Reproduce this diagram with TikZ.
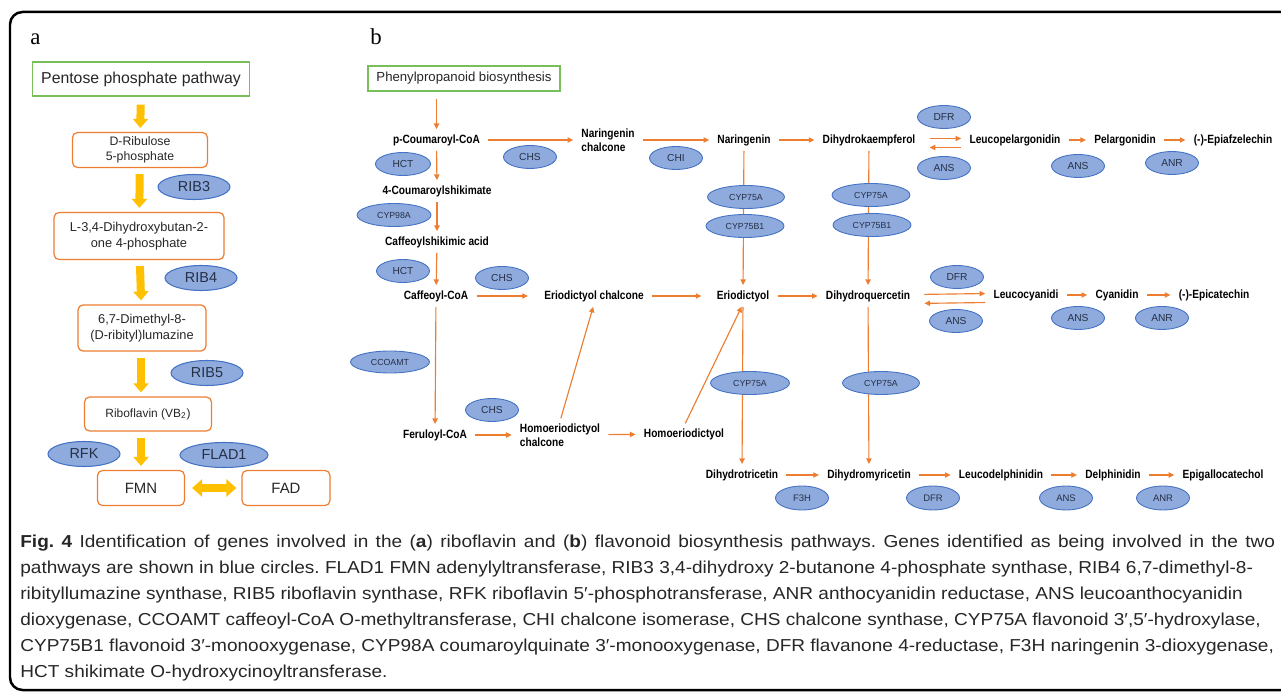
\documentclass[tikz,border=0pt]{standalone}
\usepackage{fontspec}
\setmainfont{Liberation Sans}
\newfontfamily\panelfont{Liberation Serif}
\newfontfamily\cmpdfont[FakeStretch=0.85]{Liberation Sans}
\newfontfamily\capfont[FakeStretch=1.1]{Liberation Sans}
\usepackage{xcolor}
\usetikzlibrary{shapes.geometric,arrows.meta}

\definecolor{pgreen}{RGB}{120,190,90}
\definecolor{porange}{RGB}{237,125,49}
\definecolor{pyellow}{RGB}{255,192,0}
\definecolor{efill}{RGB}{143,170,220}
\definecolor{eline}{RGB}{68,114,196}
\definecolor{etext}{RGB}{38,48,70}

\tikzstyle{source} = [rectangle, draw=pgreen, line width=0.8pt, inner sep=0, align=center, text=black!85]
\tikzstyle{metab} = [rectangle, rounded corners=0.1cm, draw=porange, line width=0.7pt, inner sep=0, align=center, text=black!85, font=\fontsize{7.3}{8.8}\selectfont]
\tikzstyle{gene} = [ellipse, draw=eline, fill=efill, line width=0.6pt, inner sep=0, text=etext, minimum width=1.44cm, minimum height=0.5cm, font=\fontsize{8.2}{9}\selectfont]
\tikzstyle{enzyme} = [ellipse, draw=eline, fill=efill, line width=0.5pt, inner sep=0, text=etext, minimum width=1.06cm, minimum height=0.46cm, font=\fontsize{5.8}{6.5}\selectfont]
\tikzstyle{cyp} = [enzyme, minimum width=1.56cm, font=\fontsize{5}{6}\selectfont]
\tikzstyle{compound} = [inner xsep=0.1cm, inner ysep=0.04cm, align=left, font=\cmpdfont\bfseries\fontsize{6.8}{8}\selectfont]
\tikzstyle{bigarrow} = [draw=pyellow, line width=0.16cm, -{Triangle[width=0.3cm,length=0.18cm]}, shorten <=0.12cm, shorten >=0.08cm]
\tikzstyle{arrow} = [draw=porange, line width=0.65pt, -{Triangle[width=3pt,length=3.2pt]}, shorten <=0.06cm, shorten >=0.06cm]

\begin{document}
\begin{tikzpicture}[x=0.02cm, y=-0.02cm]
\useasboundingbox (0,0) rectangle (1281,695);
\draw[line width=0.05cm, rounded corners=0.25cm] (1290,12) -- (10,12) -- (10,690) -- (1290,690);

\node[anchor=base west, inner sep=0, font=\panelfont\fontsize{13}{15}\selectfont] (labela) at (30,45) {a};
\node[anchor=base west, inner sep=0, font=\panelfont\fontsize{13}{15}\selectfont] (labelb) at (370,45) {b};

% (a) riboflavin
\node(ppp) [source, minimum width=4.34cm, minimum height=0.68cm, font=\fontsize{9}{10}\selectfont] at (141,79) {Pentose phosphate pathway};
\node(ru5p) [metab, minimum width=2.7cm, minimum height=0.7cm, font=\fontsize{7}{8.8}\selectfont] at (140,150) {D-Ribulose\\5-phosphate};
\node(dhbp) [metab, minimum width=3.4cm, minimum height=0.94cm] at (139,236) {L-3,4-Dihydroxybutan-2-\\one 4-phosphate};
\node(dmrl) [metab, minimum width=2.56cm, minimum height=0.92cm] at (142,328) {6,7-Dimethyl-8-\\(D-ribityl)lumazine};
\node(ribo) [metab, minimum width=2.54cm, minimum height=0.68cm, font=\fontsize{6.8}{8}\selectfont] at (148,414) {Riboflavin (VB\textsubscript{2})};
\node(fmn) [metab, minimum width=1.74cm, minimum height=0.7cm, font=\fontsize{8.5}{10}\selectfont] at (141,488) {FMN};
\node(fad) [metab, minimum width=1.76cm, minimum height=0.7cm, font=\fontsize{8.5}{10}\selectfont] at (286,488) {FAD};

\draw [bigarrow, shorten <=0.16cm] (ppp) -- (ru5p);
\draw [bigarrow] (ru5p) -- (dhbp);
\draw [bigarrow] (dhbp) -- (dmrl);
\draw [bigarrow] (dmrl.south -| fmn) -- (ribo.north -| fmn);
\draw [bigarrow] (ribo.south -| fmn) -- (fmn);
\draw [draw=pyellow, line width=0.16cm, {Triangle[width=0.34cm,length=0.2cm]}-{Triangle[width=0.34cm,length=0.2cm]}, shorten <=0.14cm, shorten >=0.1cm] (fmn) -- (fad);

\node(rib3) [gene] at (194,187) {RIB3};
\node(rib4) [gene] at (201,278) {RIB4};
\node(rib5) [gene] at (207,373) {RIB5};
\node(rfk) [gene] at (84,454) {RFK};
\node(flad1) [gene, minimum width=1.76cm] at (224,455) {FLAD1};

% (b) flavonoid
\node(phen) [source, minimum width=3.84cm, minimum height=0.5cm, font=\fontsize{7.5}{9}\selectfont] at (464,78.5) {Phenylpropanoid biosynthesis};
\node(pcoum) [compound] at (436.5,140) {p-Coumaroyl-CoA};
\node(narchal) [compound] at (608,140) {Naringenin\\chalcone};
\node(nar) [compound] at (744,140) {Naringenin};
\node(dhk) [compound] at (869,140) {Dihydrokaempferol};
\node(lpel) [compound] at (1015,140) {Leucopelargonidin};
\node(pel) [compound] at (1125,140) {Pelargonidin};
\node(epiaf) [compound] at (1233,140) {(-)-Epiafzelechin};
\node(cshik) [compound] at (437,191) {4-Coumaroylshikimate};
\node(cafshik) [compound] at (437,242) {Caffeoylshikimic acid};
\node(cafcoa) [compound] at (436,296) {Caffeoyl-CoA};
\node(erichal) [compound] at (594,296) {Eriodictyol chalcone};
\node(erio) [compound] at (743,296) {Eriodictyol};
\node(dhq) [compound] at (868,296) {Dihydroquercetin};
\node(lcya) [compound] at (1026,295) {Leucocyanidi};
\node(cya) [compound] at (1117,295) {Cyanidin};
\node(epicat) [compound] at (1214,295) {(-)-Epicatechin};
\node(fercoa) [compound] at (435,435) {Feruloyl-CoA};
\node(homchal) [compound] at (560,435) {Homoeriodictyol\\chalcone};
\node(homerio) [compound] at (684,434) {Homoeriodictyol};
\node(dht) [compound] at (742,475) {Dihydrotricetin};
\node(dhm) [compound] at (869,475) {Dihydromyricetin};
\node(ldel) [compound] at (1001,475) {Leucodelphinidin};
\node(del) [compound] at (1113,475) {Delphinidin};
\node(egc) [compound] at (1223,475) {Epigallocatechol};

\draw [arrow, shorten <=0.14cm] (phen.south -| pcoum) -- (pcoum);
\draw [arrow] (pcoum) -- (narchal);
\draw [arrow] (narchal) -- (nar);
\draw [arrow] (nar) -- (dhk);
\draw [arrow, shorten <=0.18cm] ([yshift=0.03cm]dhk.east) -- ([yshift=0.03cm]lpel.west);
\draw [arrow, shorten <=0.06cm, shorten >=0.18cm] ([yshift=-0.15cm]lpel.west) -- ([yshift=-0.15cm]dhk.east);
\draw [arrow] (lpel) -- (pel);
\draw [arrow] (pel) -- (epiaf);
\draw [arrow] (pcoum) -- (cshik);
\draw [arrow] (cshik) -- (cafshik);
\draw [arrow] (cafshik) -- (cafcoa);
\draw [arrow, shorten >=0.22cm] (cafcoa) -- (erichal);
\draw [arrow, shorten >=0.2cm] (erichal) -- (erio);
\draw [arrow] (erio) -- (dhq);
\draw [arrow, shorten <=0.18cm] ([yshift=0.03cm]dhq.east) -- ([yshift=0.03cm]lcya.west);
\draw [arrow, shorten <=0.06cm, shorten >=0.18cm] ([yshift=-0.15cm]lcya.west) -- ([yshift=-0.15cm]dhq.east);
\draw [arrow] (lcya) -- (cya);
\draw [arrow] (cya) -- (epicat);
\draw [arrow] (nar) -- (erio);
\draw [arrow] (dhk) -- (dhq);
\draw [arrow] (cafcoa) -- (fercoa);
\draw [arrow] (fercoa) -- (homchal);
\draw [arrow] (homchal) -- (homerio);
\draw [arrow] (homchal.north) -- (erichal.south);
\draw [arrow] (homerio.north) -- (erio.south);
\draw [arrow] (erio) -- (dht);
\draw [arrow] (dhq) -- (dhm);
\draw [arrow] (dht) -- (dhm);
\draw [arrow] (dhm) -- (ldel);
\draw [arrow] (ldel) -- (del);
\draw [arrow] (del) -- (egc);

\node(hct1) [enzyme, minimum width=1.1cm] at (403,164) {HCT};
\node(chs1) [enzyme] at (530,157) {CHS};
\node(chi) [enzyme] at (676,158) {CHI};
\node(cyp98a) [cyp, minimum width=1.48cm] at (394,215) {CYP98A};
\node(hct2) [enzyme] at (403,271) {HCT};
\node(chs2) [enzyme] at (502,278) {CHS};
\node(ccoamt) [cyp, minimum width=1.58cm, minimum height=0.44cm] at (390,362) {CCOAMT};
\node(chs3) [enzyme] at (492,410) {CHS};
\node(cyp75a1) [cyp, minimum width=1.54cm] at (746,197) {CYP75A};
\node(cyp75b11) [cyp] at (745,226) {CYP75B1};
\node(cyp75a2) [cyp] at (871,195) {CYP75A};
\node(cyp75b12) [cyp] at (872,225) {CYP75B1};
\node(dfr1) [enzyme] at (944,117) {DFR};
\node(ans1) [enzyme] at (944,168) {ANS};
\node(ans2) [enzyme] at (1078,166) {ANS};
\node(anr1) [enzyme] at (1172,163) {ANR};
\node(dfr2) [enzyme] at (957,277) {DFR};
\node(ans3) [enzyme] at (956,321) {ANS};
\node(ans4) [enzyme] at (1078,318) {ANS};
\node(anr2) [enzyme] at (1162,318) {ANR};
\node(cyp75a3) [cyp, minimum width=1.58cm] at (750,383) {CYP75A};
\node(cyp75a4) [cyp, minimum width=1.54cm] at (881,383) {CYP75A};
\node(f3h) [enzyme, minimum height=0.48cm, font=\fontsize{5.4}{6}\selectfont] at (802,498) {F3H};
\node(dfr3) [enzyme, minimum height=0.48cm, font=\fontsize{5.4}{6}\selectfont] at (933,498) {DFR};
\node(ans5) [enzyme, minimum height=0.48cm, font=\fontsize{5.4}{6}\selectfont] at (1066,498) {ANS};
\node(anr3) [enzyme, minimum height=0.48cm, font=\fontsize{5.4}{6}\selectfont] at (1163,498) {ANR};

\node(figcap) [anchor=north west, inner sep=0, align=left, text=black!85, font=\capfont\fontsize{9.85}{14.75}\selectfont\frenchspacing] at (20,535) {\makebox[25.1cm][s]{\textbf{Fig. 4} Identification of genes involved in the (\textbf{a}) riboflavin and (\textbf{b}) flavonoid biosynthesis pathways. Genes identified as being involved in the two}\\
pathways are shown in blue circles. FLAD1 FMN adenylyltransferase, RIB3 3,4-dihydroxy 2-butanone 4-phosphate synthase, RIB4 6,7-dimethyl-8-\\
ribityllumazine synthase, RIB5 riboflavin synthase, RFK riboflavin 5′-phosphotransferase, ANR anthocyanidin reductase, ANS leucoanthocyanidin\\
dioxygenase, CCOAMT caffeoyl-CoA O-methyltransferase, CHI chalcone isomerase, CHS chalcone synthase, CYP75A flavonoid 3′,5′-hydroxylase,\\
CYP75B1 flavonoid 3′-monooxygenase, CYP98A coumaroylquinate 3′-monooxygenase, DFR flavanone 4-reductase, F3H naringenin 3-dioxygenase,\\
HCT shikimate O-hydroxycinoyltransferase.};

\end{tikzpicture}
\end{document}
